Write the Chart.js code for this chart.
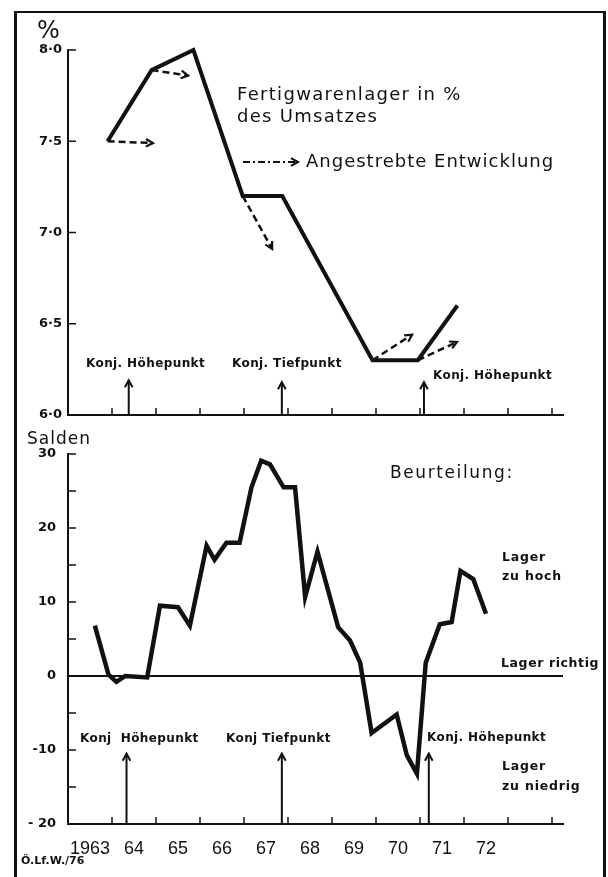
<!DOCTYPE html>
<html lang="de">
  <head>
    <meta charset="utf-8" />
    <title>Fertigwarenlager und Beurteilung</title>
    <style>
      body { margin: 0; background: #fff; }
      #frame { position: relative; width: 608px; height: 877px; overflow: hidden; }
      #border {
        position: absolute; left: 14px; top: 11px; width: 586px; height: 900px;
        border-left: 3px solid #111; border-top: 2px solid #111; border-right: 3px solid #111;
      }
      canvas { position: absolute; left: 0; }
    </style>
  </head>
  <body>
    <div id="frame">
      <div id="border"></div>
      <canvas id="lagerChart" width="608" height="430" style="top: 0"></canvas>
      <canvas id="saldenChart" width="608" height="447" style="top: 430px"></canvas>
    </div>
    <script src="https://cdn.jsdelivr.net/npm/chart.js@4.4.0/dist/chart.umd.min.js"></script>
    <script>
      // --- Fertigwarenlager in % des Umsatzes ---
      const lagerYears = [1963.9, 1964.9, 1965.85, 1966.97, 1967.87, 1969.92, 1970.95, 1971.85];
      const lagerValues = [7.5, 7.89, 8.0, 7.2, 7.2, 6.3, 6.3, 6.6];

      // Angestrebte Entwicklung (gestrichelte Pfeile)
      const targetStartYears = [1963.9, 1964.9, 1966.97, 1969.92, 1970.95];
      const targetStartValues = [7.5, 7.89, 7.2, 6.3, 6.3];
      const targetEndYears = [1964.93, 1965.73, 1967.64, 1970.82, 1971.84];
      const targetEndValues = [7.49, 7.86, 6.91, 6.44, 6.4];

      const lagerTicks = [6.0, 6.5, 7.0, 7.5, 8.0];
      const lagerTickLabels = ['6·0', '6·5', '7·0', '7·5', '8·0'];

      // Konjunkturwendepunkte (Pfeile)
      const konjTopYears = [1964.38, 1967.86, 1971.09];
      const konjTopTips = [6.19, 6.18, 6.18];

      // --- Salden (Beurteilung der Lager) ---
      const saldenYears = [
        1963.61, 1963.92, 1964.1, 1964.3, 1964.8, 1965.09, 1965.5, 1965.77, 1966.15, 1966.33,
        1966.6, 1966.9, 1967.17, 1967.39, 1967.59, 1967.9, 1968.16, 1968.39, 1968.67, 1969.14,
        1969.41, 1969.64, 1969.9, 1970.47, 1970.7, 1970.93, 1971.13, 1971.45, 1971.72, 1971.92,
        1972.21, 1972.5,
      ];
      const saldenValues = [
        6.8, 0.2, -0.8, 0, -0.2, 9.5, 9.3, 6.8, 17.6, 15.7,
        18.0, 18.0, 25.5, 29.1, 28.6, 25.5, 25.5, 10.7, 16.8, 6.6,
        4.8, 1.8, -7.7, -5.2, -10.7, -13.2, 1.8, 7.0, 7.3, 14.2,
        13.1, 8.4,
      ];
      const saldenTicks = [-20, -15, -10, -5, 0, 5, 10, 15, 20, 25, 30];
      const saldenTickLabels = ['- 20', '', '-10', '', '0', '', '10', '', '20', '', '30'];

      const konjBottomYears = [1964.33, 1967.86, 1971.2];
      const konjBottomTips = [-10.5, -10.5, -10.5];

      // Jahresachse
      const yearMarks = [1964, 1965, 1966, 1967, 1968, 1969, 1970, 1971, 1972, 1973, 1974];
      const yearCenters = [1963.5, 1964.5, 1965.5, 1966.5, 1967.5, 1968.5, 1969.5, 1970.5, 1971.5, 1972.5];
      const yearLabels = ['1963', '64', '65', '66', '67', '68', '69', '70', '71', '72'];

      const ink = '#111';
      const sans = 'DejaVu Sans';

      function arrowHead(ctx, x1, y1, x2, y2, size) {
        const a = Math.atan2(y2 - y1, x2 - x1);
        ctx.beginPath();
        ctx.moveTo(x2 - size * Math.cos(a - 0.5), y2 - size * Math.sin(a - 0.5));
        ctx.lineTo(x2, y2);
        ctx.lineTo(x2 - size * Math.cos(a + 0.5), y2 - size * Math.sin(a + 0.5));
        ctx.stroke();
      }

      // draws inner tick marks, the Konj. arrows, arrow heads and the free texts
      function makeSketch(cfg) {
        return {
          id: 'sketch',
          afterDatasetsDraw(chart) {
            const { ctx, scales: { x, y } } = chart;
            ctx.save();
            ctx.strokeStyle = ink;
            ctx.fillStyle = ink;
            ctx.setLineDash([]);
            ctx.lineWidth = 1.5;
            cfg.yMarks.forEach((v) => {
              const py = y.getPixelForValue(v);
              ctx.beginPath();
              ctx.moveTo(x.left, py);
              ctx.lineTo(x.left + 8, py);
              ctx.stroke();
            });
            yearMarks.forEach((v) => {
              const px = x.getPixelForValue(v);
              ctx.beginPath();
              ctx.moveTo(px, y.bottom);
              ctx.lineTo(px, y.bottom - 7);
              ctx.stroke();
            });

            ctx.lineWidth = 2;
            cfg.konjYears.forEach((yr, i) => {
              const px = x.getPixelForValue(yr);
              const tip = y.getPixelForValue(cfg.konjTips[i]);
              ctx.beginPath();
              ctx.moveTo(px, y.bottom);
              ctx.lineTo(px, tip);
              ctx.stroke();
              arrowHead(ctx, px, y.bottom, px, tip, 8);
            });

            ctx.lineWidth = 2.2;
            chart.data.datasets.forEach((ds, i) => {
              if (!ds.arrow) return;
              const pts = chart.getDatasetMeta(i).data;
              const a = pts[pts.length - 2];
              const b = pts[pts.length - 1];
              arrowHead(ctx, a.x, a.y, b.x, b.y, 8);
            });

            if (cfg.legend) {
              const l = cfg.legend;
              ctx.lineWidth = 2;
              ctx.setLineDash([7, 3, 2, 3]);
              ctx.beginPath();
              ctx.moveTo(l.x1, l.y);
              ctx.lineTo(l.x2, l.y);
              ctx.stroke();
              ctx.setLineDash([]);
              arrowHead(ctx, l.x1, l.y, l.x2, l.y, 8);
            }

            ctx.textBaseline = 'middle';
            ctx.textAlign = 'left';
            cfg.texts.forEach((t) => {
              ctx.font = t.style;
              ctx.letterSpacing = (t.spacing || 0) + 'px';
              ctx.fillText(t.text, t.x, t.y);
            });
            ctx.restore();
          },
        };
      }

      const big = `18px "${sans}"`;
      const small = `bold 12px "${sans}"`;
      const note = `bold 12.5px "${sans}"`;

      new Chart(document.getElementById('lagerChart'), {
        type: 'line',
        data: {
          datasets: [
            {
              data: lagerYears.map((x, i) => ({ x, y: lagerValues[i] })),
              borderColor: ink,
              borderWidth: 4,
              pointRadius: 0,
              clip: false,
            },
            ...targetStartYears.map((x0, i) => ({
              data: [
                { x: x0, y: targetStartValues[i] },
                { x: targetEndYears[i], y: targetEndValues[i] },
              ],
              borderColor: ink,
              borderWidth: 2.5,
              borderDash: [7, 4],
              pointRadius: 0,
              clip: false,
              arrow: true,
            })),
          ],
        },
        options: {
          responsive: false,
          animation: false,
          layout: { padding: { top: 50, bottom: 15, left: 0, right: 45 } },
          plugins: { legend: { display: false }, tooltip: { enabled: false } },
          scales: {
            x: {
              type: 'linear',
              min: 1963,
              max: 1974.25,
              grid: { display: false, drawTicks: false },
              border: { color: ink, width: 2 },
              ticks: { display: false },
              afterFit: (s) => { s.height = 0; },
            },
            y: {
              min: 6,
              max: 8,
              grid: { display: false, drawTicks: false },
              border: { color: ink, width: 2 },
              afterBuildTicks: (axis) => { axis.ticks = lagerTicks.map((value) => ({ value })); },
              ticks: {
                color: ink,
                padding: 6,
                font: { family: sans, size: 13, weight: 'bold' },
                callback: (v, i) => lagerTickLabels[i],
              },
              afterFit: (s) => { s.width = 68; },
            },
          },
        },
        plugins: [
          makeSketch({
            yMarks: lagerTicks,
            konjYears: konjTopYears,
            konjTips: konjTopTips,
            legend: { x1: 243, x2: 298, y: 162 },
            texts: [
              { text: '%', x: 37, y: 32, style: `24px "${sans}"` },
              { text: 'Fertigwarenlager in %', x: 237, y: 95, style: big, spacing: 1.3 },
              { text: 'des Umsatzes', x: 237, y: 117, style: big, spacing: 1.3 },
              { text: 'Angestrebte Entwicklung', x: 306, y: 162, style: big, spacing: 1 },
              { text: 'Konj. Höhepunkt', x: 86, y: 364, style: small, spacing: 0.4 },
              { text: 'Konj. Tiefpunkt', x: 232, y: 364, style: small, spacing: 0.4 },
              { text: 'Konj. Höhepunkt', x: 433, y: 376, style: small, spacing: 0.4 },
            ],
          }),
        ],
      });

      new Chart(document.getElementById('saldenChart'), {
        type: 'line',
        data: {
          datasets: [
            {
              data: saldenYears.map((x, i) => ({ x, y: saldenValues[i] })),
              borderColor: ink,
              borderWidth: 4.5,
              pointRadius: 0,
              clip: false,
            },
            {
              data: [{ x: 1963, y: 0 }, { x: 1974.25, y: 0 }],
              borderColor: ink,
              borderWidth: 1.8,
              pointRadius: 0,
            },
          ],
        },
        options: {
          responsive: false,
          animation: false,
          layout: { padding: { top: 24, bottom: 0, left: 0, right: 45 } },
          plugins: { legend: { display: false }, tooltip: { enabled: false } },
          scales: {
            x: {
              type: 'linear',
              min: 1963,
              max: 1974.25,
              grid: { display: false, drawTicks: false },
              border: { color: ink, width: 2 },
              afterBuildTicks: (axis) => { axis.ticks = yearCenters.map((value) => ({ value })); },
              ticks: {
                color: ink,
                padding: 14,
                autoSkip: false,
                maxRotation: 0,
                font: { family: 'Liberation Sans', size: 18 },
                callback: (v, i) => yearLabels[i],
              },
              afterFit: (s) => { s.height = 53; },
            },
            y: {
              min: -20,
              max: 30,
              grid: { display: false, drawTicks: false },
              border: { color: ink, width: 2 },
              afterBuildTicks: (axis) => { axis.ticks = saldenTicks.map((value) => ({ value })); },
              ticks: {
                color: ink,
                padding: 12,
                font: { family: sans, size: 13, weight: 'bold' },
                callback: (v, i) => saldenTickLabels[i],
              },
              afterFit: (s) => { s.width = 68; },
            },
          },
        },
        plugins: [
          makeSketch({
            yMarks: saldenTicks,
            konjYears: konjBottomYears,
            konjTips: konjBottomTips,
            texts: [
              { text: 'Salden', x: 27, y: 10, style: `17px "${sans}"`, spacing: 1 },
              { text: 'Beurteilung:', x: 390, y: 44, style: `17px "${sans}"`, spacing: 1.6 },
              { text: 'Lager', x: 502, y: 128, style: note, spacing: 0.8 },
              { text: 'zu hoch', x: 502, y: 147, style: note, spacing: 0.8 },
              { text: 'Lager richtig', x: 501, y: 234, style: note, spacing: 0.6 },
              { text: 'Konj  Höhepunkt', x: 80, y: 309, style: small, spacing: 0.4 },
              { text: 'Konj Tiefpunkt', x: 226, y: 309, style: small, spacing: 0.4 },
              { text: 'Konj. Höhepunkt', x: 427, y: 308, style: small, spacing: 0.4 },
              { text: 'Lager', x: 502, y: 337, style: note, spacing: 0.8 },
              { text: 'zu niedrig', x: 502, y: 357, style: note, spacing: 0.8 },
              { text: 'Ö.Lf.W./76', x: 21, y: 431, style: `bold 11px "${sans}"` },
            ],
          }),
        ],
      });
    </script>
  </body>
</html>
